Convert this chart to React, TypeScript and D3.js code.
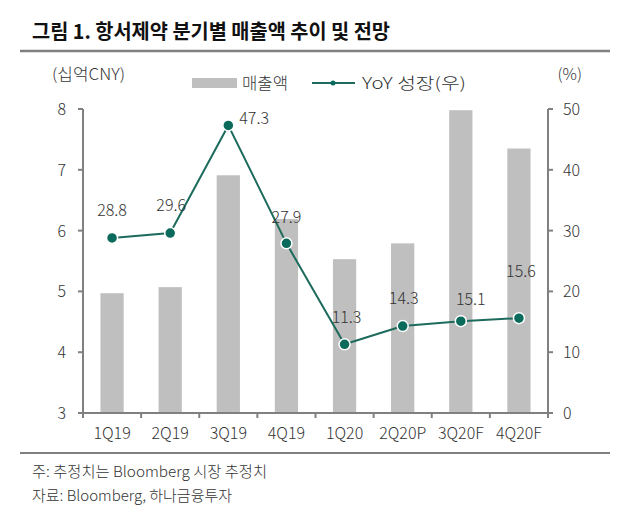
import React from "react";
import * as d3 from "d3";

const categories = ["1Q19", "2Q19", "3Q19", "4Q19", "1Q20", "2Q20P", "3Q20F", "4Q20F"];
const revenue = [4.97, 5.07, 6.91, 6.19, 5.53, 5.79, 7.98, 7.35];
const yoy = [28.8, 29.6, 47.3, 27.9, 11.3, 14.3, 15.1, 15.6];
const leftTicks = [3, 4, 5, 6, 7, 8];
const rightTicks = [0, 10, 20, 30, 40, 50];
// label offsets (dx, dy, anchor) relative to each point
const labelOffsets: [number, number, string][] = [
  [0, -22, "middle"],
  [1, -22, "middle"],
  [11, -1, "start"],
  [0, -20, "middle"],
  [2, -21, "middle"],
  [1, -22, "middle"],
  [10, -16, "middle"],
  [2, -41, "middle"],
];

const FONT = "'Noto Sans CJK KR', 'Noto Sans', sans-serif";
const TEXT = "#333333";
const AXIS = "#808080";
const BAR = "#bfbfbf";
const LINE = "#1c6b5c";
const DOT = "#0a6b5c";

export default function App() {
  const left = 83, right = 548, top = 109, bottom = 413;
  const x = d3.scaleBand<string>().domain(categories).range([left, right]).paddingInner(0.6).paddingOuter(0.3);
  const yL = d3.scaleLinear().domain([3, 8]).range([bottom, top]);
  const yR = d3.scaleLinear().domain([0, 50]).range([bottom, top]);
  const cx = (c: string) => (x(c) as number) + x.bandwidth() / 2;
  const line = d3.line<number>().x((_, i) => cx(categories[i])).y((d) => yR(d));
  const boundaries = d3.range(categories.length + 1).map((i) => left + i * ((right - left) / categories.length));

  return (
    <svg width={626} height={518} style={{ position: "absolute", left: 0, top: 0, background: "#fff" }} fontFamily={FONT}>
      <rect x={0} y={0} width={626} height={518} fill="#fff" />
      {/* title */}
      <text x={32} y={39} fontSize={20} fontWeight="bold" fill="#111" textLength={358} lengthAdjust="spacingAndGlyphs">
        그림 1. 항서제약 분기별 매출액 추이 및 전망
      </text>
      <line x1={20} x2={610} y1={51} y2={51} stroke={AXIS} strokeWidth={2.5} />

      <g fontWeight={300}>
        {/* unit labels */}
        <text x={52} y={80} fontSize={16} fill={TEXT} textLength={73} lengthAdjust="spacingAndGlyphs">(십억CNY)</text>
        <text x={582} y={80} fontSize={16} fill={TEXT} textAnchor="end">(%)</text>

        {/* legend */}
        <rect x={192} y={78} width={45} height={10} fill={BAR} />
        <text x={242} y={89} fontSize={16} fill={TEXT} textLength={46} lengthAdjust="spacingAndGlyphs">매출액</text>
        <line x1={312} x2={355} y1={83} y2={83} stroke={LINE} strokeWidth={2} />
        <circle cx={333} cy={83} r={2.5} fill={DOT} />
        <text x={362} y={89} fontSize={16} fill={TEXT} textLength={104} lengthAdjust="spacingAndGlyphs">YoY 성장(우)</text>

        {/* bars */}
        {categories.map((c, i) => (
          <rect key={c} x={x(c)} y={yL(revenue[i])} width={x.bandwidth()} height={bottom - yL(revenue[i])} fill={BAR} />
        ))}

        {/* axes */}
        <line x1={left} x2={left} y1={top} y2={bottom} stroke={AXIS} strokeWidth={2} />
        <line x1={right} x2={right} y1={top} y2={bottom} stroke={AXIS} strokeWidth={2} />
        <line x1={left - 5} x2={right + 5} y1={bottom} y2={bottom} stroke={AXIS} strokeWidth={2} />
        {leftTicks.map((t) => (
          <g key={"l" + t}>
            <line x1={left - 5} x2={left} y1={yL(t)} y2={yL(t)} stroke={AXIS} strokeWidth={2} />
            <text x={66} y={yL(t) + 6} fontSize={16} fill={TEXT} textAnchor="end">{t}</text>
          </g>
        ))}
        {rightTicks.map((t) => (
          <g key={"r" + t}>
            <line x1={right} x2={right + 5} y1={yR(t)} y2={yR(t)} stroke={AXIS} strokeWidth={2} />
            <text x={563} y={yR(t) + 6} fontSize={16} fill={TEXT}>{t}</text>
          </g>
        ))}
        {boundaries.map((b, i) => (
          <line key={"b" + i} x1={b} x2={b} y1={bottom} y2={bottom + 5} stroke={AXIS} strokeWidth={2} />
        ))}
        {categories.map((c) => (
          <text key={"x" + c} x={cx(c)} y={439} fontSize={16} fill={TEXT} textAnchor="middle">{c}</text>
        ))}

        {/* line */}
        <path d={line(yoy) || ""} fill="none" stroke={LINE} strokeWidth={2} />
        {yoy.map((v, i) => (
          <circle key={"d" + i} cx={cx(categories[i])} cy={yR(v)} r={5.5} fill={DOT} stroke="#fff" strokeWidth={1.5} />
        ))}
        {yoy.map((v, i) => (
          <text key={"t" + i} x={cx(categories[i]) + labelOffsets[i][0]} y={yR(v) + labelOffsets[i][1]} fontSize={16} fill={TEXT} textAnchor={labelOffsets[i][2] as any}>
            {v.toFixed(1)}
          </text>
        ))}

        {/* footer */}
        <line x1={20} x2={610} y1={453} y2={453} stroke={AXIS} strokeWidth={2} />
        <text x={32} y={477} fontSize={15} fill={TEXT} textLength={235} lengthAdjust="spacingAndGlyphs">주: 추정치는 Bloomberg 시장 추정치</text>
        <text x={32} y={501} fontSize={15} fill={TEXT}>자료: Bloomberg, 하나금융투자</text>
      </g>
    </svg>
  );
}
